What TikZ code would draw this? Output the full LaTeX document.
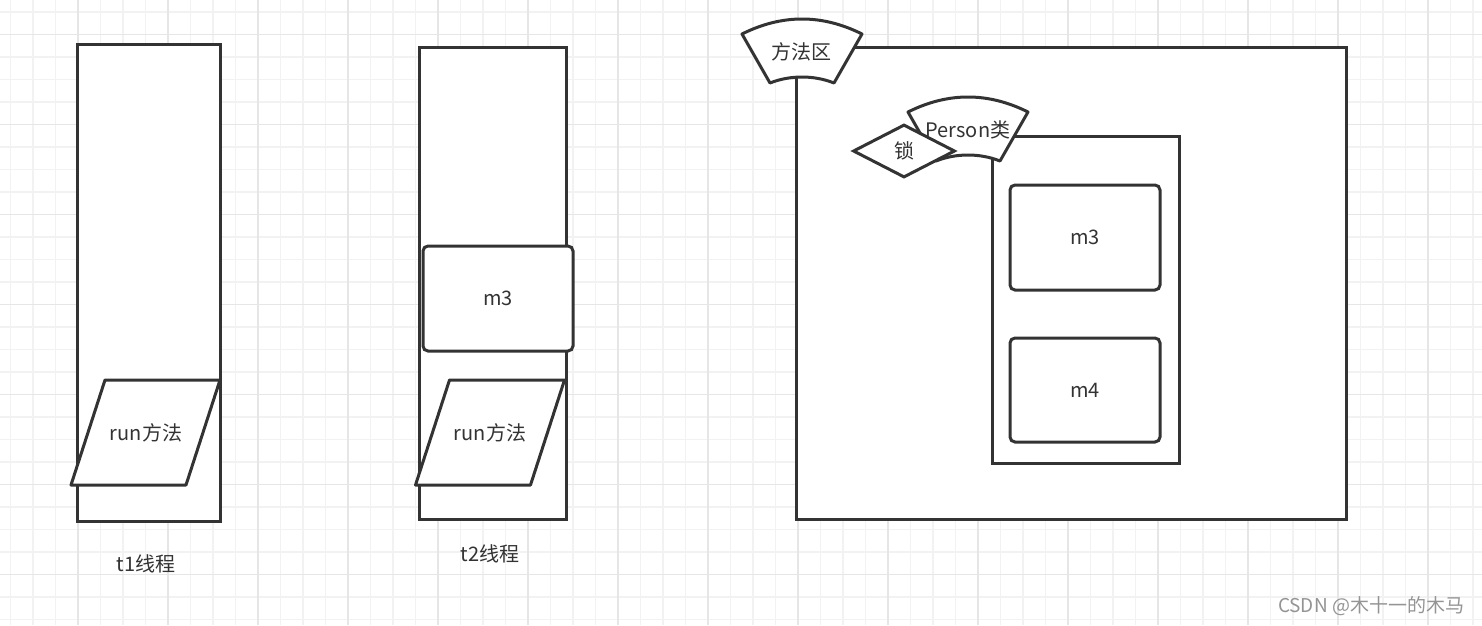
\documentclass[tikz,border=0pt]{standalone}
\usepackage{fontspec}
\setmainfont{Noto Sans CJK SC}
\usetikzlibrary{shapes.geometric}

\definecolor{darkline}{HTML}{333333}
\definecolor{gridminor}{HTML}{F2F2F2}
\definecolor{gridmajor}{HTML}{E6E6E6}

\tikzset{
  fan/.pic={
    \draw[line width=3pt, draw=darkline, fill=white, line join=round]
      (-60,-18) .. controls (-20,-38) and (20,-38) .. (60,-18)
      -- (32,31) .. controls (12,23) and (-12,23) .. (-32,31) -- cycle;
  },
  slant/.pic={
    \draw[line width=3pt, draw=darkline, fill=white, line join=round]
      (-40.5,-52.5) -- (74.5,-52.5) -- (40.5,52.5) -- (-74.5,52.5) -- cycle;
  }
}

\begin{document}
\begin{tikzpicture}[x=1pt, y=-1pt,
    frame/.style={rectangle, draw=darkline, line width=3pt, fill=white, inner sep=0pt, text=darkline, font=\fontsize{20}{24}\selectfont},
    method/.style={frame, rounded corners=5pt, minimum width=150pt, minimum height=105pt},
    lockbox/.style={diamond, draw=darkline, line width=3pt, fill=white, minimum width=102pt, minimum height=53pt, inner sep=0pt, text=darkline, font=\fontsize{20}{24}\selectfont},
    caption/.style={text=darkline, font=\fontsize{20}{24}\selectfont},
    gridline/.style={draw=gridminor, line width=1.2pt},
    gridbold/.style={draw=gridmajor, line width=1.4pt}]
    \useasboundingbox (0,0) rectangle (1482,625);
    \fill[white] (0,0) rectangle (1482,625);

    % background grid
    \foreach \gx in {10.5,33,...,1482} \draw[gridline] (\gx,0) -- (\gx,625);
    \foreach \gy in {12,34.5,...,625} \draw[gridline] (0,\gy) -- (1482,\gy);
    \foreach \gx in {78,168,...,1482} \draw[gridbold] (\gx,0) -- (\gx,625);
    \foreach \gy in {34.5,124.5,...,625} \draw[gridbold] (0,\gy) -- (1482,\gy);

    % t1 thread
    \node [frame, minimum width=143pt, minimum height=477pt] (t1) at (148.5,282.5) {};
    \pic at (145.5,432.5) {slant};
    \node [caption] (run1) at (146,432.5) {run方法};
    \node [caption] (t1label) at (146,564) {t1线程};

    % t2 thread
    \node [frame, minimum width=147pt, minimum height=472pt] (t2) at (492.5,283) {};
    \node [method] (m3a) at (498,298.5) {m3};
    \pic at (490,432.5) {slant};
    \node [caption] (run2) at (490,432.5) {run方法};
    \node [caption] (t2label) at (490,554) {t2线程};

    % method area
    \node [frame, minimum width=550pt, minimum height=472pt] (area) at (1071,283) {};
    \node [frame, minimum width=187pt, minimum height=327pt] (person) at (1085.5,299.5) {};
    \node [method] (m3b) at (1085,237.5) {m3};
    \node [method, minimum height=104pt] (m4) at (1085,390) {m4};
    \pic at (968,130) {fan};
    \node [caption] (personlabel) at (968,130) {Person类};
    \node [lockbox] (lock) at (904,151) {锁};
    \pic at (802,52) {fan};
    \node [caption] (arealabel) at (801,52) {方法区};

    \node [text=black!42, font=\fontsize{19}{22}\selectfont] (mark) at (1371,606) {CSDN @木十一的木马};
\end{tikzpicture}
\end{document}
